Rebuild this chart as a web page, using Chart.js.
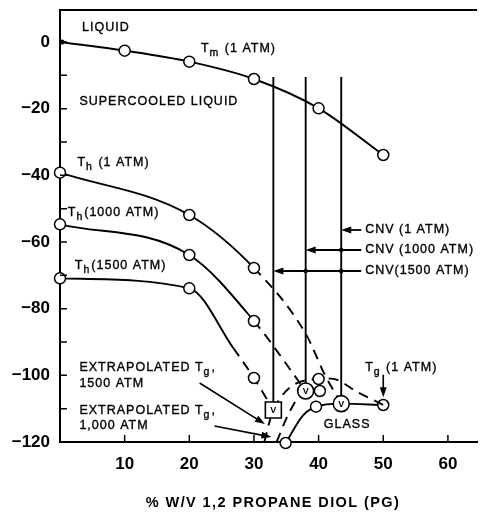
<!DOCTYPE html>
<html>
<head>
<meta charset="utf-8">
<script src="https://cdn.jsdelivr.net/npm/chart.js@4.4.1/dist/chart.umd.min.js"></script>
<style>
  html, body { margin: 0; padding: 0; background: #fff; }
  canvas { display: block; }
</style>
</head>
<body>
<canvas id="phaseChart" width="484" height="514"></canvas>
<script>
// axis ticks
const xTicks = [10, 20, 30, 40, 50, 60];
const yTicks = [0, -20, -40, -60, -80, -100, -120];

// Tm (1 atm) melting curve
const tmX = [0, 10, 20, 30, 40, 50];
const tmY = [0, -2.6, -5.9, -11.1, -19.9, -33.9];

// Th homogeneous nucleation curves at 1, 1000 and 1500 atm
const th1X = [0, 20, 30, 38, 41, 43.5];
const th1Y = [-39.2, -51.9, -67.8, -87.5, -100, -108.5];
const th1000X = [0, 20, 30, 38];
const th1000Y = [-54.7, -63.9, -83.7, -104.7];
const th1500X = [0, 20, 26.8, 30, 33];
const th1500Y = [-70.9, -73.9, -91.8, -100.8, -110.4];

// Tg glass transition curves (1 atm measured, high pressure extrapolated)
const tg1X = [34.9, 37.6, 39.6, 43.5, 50];
const tg1Y = [-120.3, -112, -109.4, -108.5, -108.9];
const tg1000X = [33.5, 35.5, 38, 40.2];
const tg1000Y = [-120, -111, -104.7, -104.7];
const tg1500X = [31.6, 33, 40, 42, 46, 50];
const tg1500Y = [-120, -110.4, -101.1, -101, -105, -108.9];

// critical concentration for vitrification
const cnvLabels = ['CNV (1 ATM)', 'CNV (1000 ATM)', 'CNV(1500 ATM)'];
const cnvX = [43.5, 38, 33];
const cnvTop = -10.5;
const cnvBottom = [-108.5, -104.7, -110.4];

const R = 5.5;
const DASH = [10, 7];
const FONT = '"Liberation Sans", Arial, sans-serif';

function curve(xs, ys, radii, dashFrom) {
    return {
        data: xs.map((x, i) => ({ x: x, y: ys[i] })),
        showLine: true,
        clip: false,
        borderColor: '#000',
        borderWidth: 1.9,
        cubicInterpolationMode: 'monotone',
        pointRadius: radii,
        pointBackgroundColor: '#fff',
        pointBorderColor: '#000',
        pointBorderWidth: 1.5,
        segment: {
            borderDash: ctx => (ctx.p0DataIndex >= dashFrom ? DASH : undefined),
        },
    };
}

function vline(x, y1, y2) {
    return {
        data: [{ x: x, y: y1 }, { x: x, y: y2 }],
        showLine: true,
        clip: false,
        borderColor: '#000',
        borderWidth: 1.9,
        pointRadius: 0,
    };
}

// free text on the plot, in data units (left edge, vertical middle)
const notes = [
    ['LIQUID', 3.4, 4.2],
    ['T_m (1 ATM)', 21.8, -2.1],
    ['SUPERCOOLED LIQUID', 3.0, -17.9],
    ['T_h (1 ATM)', 2.7, -36.2],
    ['T_h(1000 ATM)', 1.2, -51.2],
    ['T_h(1500 ATM)', 2.3, -67.2],
    ['EXTRAPOLATED T_g,', 3.0, -97.8],
    ['1500 ATM', 3.0, -102.6],
    ['EXTRAPOLATED T_g,', 3.0, -110.7],
    ['1,000 ATM', 3.0, -115.2],
    ['T_g (1 ATM)', 47.2, -97.8],
    ['GLASS', 40.8, -114.9],
];
const cnvLabelY = [-56.4, -62.4, -68.7];

// pointer arrows: [x1, y1, x2, y2], head at the second point
const pointers = [
    [21.6, -102.3, 31.7, -114.6],
    [23.9, -115.2, 32.7, -118.5],
    [50, -99.8, 50, -106.6],
];

function drawText(ctx, text, px, py) {
    // "_x" marks a subscript character
    const parts = text.split(/_(.)/);
    let cx = px;
    parts.forEach((p, i) => {
        if (!p) return;
        const sub = i % 2 === 1;
        ctx.font = (sub ? '10.5px ' : '12.5px ') + FONT;
        ctx.fillText(p, cx, py + (sub ? 4 : 0));
        ctx.strokeText(p, cx, py + (sub ? 4 : 0));
        cx += ctx.measureText(p).width + (sub ? 1 : 0);
    });
}

function arrow(ctx, x1, y1, x2, y2) {
    const a = Math.atan2(y2 - y1, x2 - x1);
    ctx.beginPath();
    ctx.moveTo(x1, y1);
    ctx.lineTo(x2 - 6 * Math.cos(a), y2 - 6 * Math.sin(a));
    ctx.stroke();
    ctx.beginPath();
    ctx.moveTo(x2, y2);
    ctx.lineTo(x2 - 10 * Math.cos(a) + 3.5 * Math.sin(a), y2 - 10 * Math.sin(a) - 3.5 * Math.cos(a));
    ctx.lineTo(x2 - 10 * Math.cos(a) - 3.5 * Math.sin(a), y2 - 10 * Math.sin(a) + 3.5 * Math.cos(a));
    ctx.closePath();
    ctx.fill();
}

const annotate = {
    id: 'annotate',
    afterDatasetsDraw(chart) {
        const { ctx, chartArea: area, scales: { x, y } } = chart;
        const px = v => x.getPixelForValue(v);
        const py = v => y.getPixelForValue(v);
        ctx.save();
        ctx.strokeStyle = '#000';
        ctx.fillStyle = '#000';

        // frame top and inward tick marks
        ctx.lineWidth = 2;
        ctx.beginPath();
        ctx.moveTo(area.left, area.top);
        ctx.lineTo(area.right, area.top);
        ctx.stroke();
        ctx.lineWidth = 1.5;
        ctx.beginPath();
        for (let v = -110; v <= 0; v += 10) {
            ctx.moveTo(area.left, py(v));
            ctx.lineTo(area.left + 7, py(v));
        }
        xTicks.forEach(v => {
            ctx.moveTo(px(v), area.bottom);
            ctx.lineTo(px(v), area.bottom - 7);
        });
        ctx.stroke();
        // start of the melting curve
        ctx.beginPath();
        ctx.arc(px(tmX[0]) + 2, py(tmY[0]), 2.5, 0, Math.PI * 2);
        ctx.fill();

        // CNV labels with arrows to their verticals
        ctx.lineWidth = 1.8;
        cnvLabels.forEach((t, i) => {
            const yy = py(cnvLabelY[i]);
            arrow(ctx, px(46.6), yy, px(cnvX[i]), yy);
            cnvX.slice(0, i).forEach(cx => {
                ctx.beginPath();
                ctx.arc(px(cx), yy, 2.2, 0, Math.PI * 2);
                ctx.fill();
            });
        });

        ctx.lineWidth = 1.6;
        pointers.forEach(p => arrow(ctx, px(p[0]), py(p[1]), px(p[2]), py(p[3])));

        // vitrification markers
        ctx.lineWidth = 1.6;
        cnvX.forEach((cx, i) => {
            const mx = px(cx), my = py(cnvBottom[i]);
            ctx.fillStyle = '#fff';
            ctx.beginPath();
            if (i === 2) ctx.rect(mx - 8, my - 8, 16, 16);
            else ctx.arc(mx, my, 8, 0, Math.PI * 2);
            ctx.fill();
            ctx.stroke();
            ctx.fillStyle = '#000';
            ctx.font = 'bold 9px ' + FONT;
            ctx.textAlign = 'center';
            ctx.textBaseline = 'middle';
            ctx.fillText('V', mx, my + 1);
        });

        // text
        ctx.textAlign = 'left';
        ctx.textBaseline = 'middle';
        ctx.letterSpacing = '1px';
        ctx.lineWidth = 0.35;
        notes.forEach(n => drawText(ctx, n[0], px(n[1]), py(n[2])));
        cnvLabels.forEach((t, i) => drawText(ctx, t, px(47.2), py(cnvLabelY[i])));

        ctx.letterSpacing = '1.4px';
        ctx.font = 'bold 14.5px ' + FONT;
        ctx.textAlign = 'center';
        ctx.fillText('% W/V 1,2 PROPANE DIOL (PG)', 273, 503);
        ctx.restore();
    },
};

document.addEventListener('DOMContentLoaded', function () {
    Chart.defaults.color = '#000';
    const ctx = document.getElementById('phaseChart').getContext('2d');
    new Chart(ctx, {
        type: 'scatter',
        data: {
            datasets: [
                ...cnvX.map((cx, i) => vline(cx, cnvTop, cnvBottom[i])),
                curve(tmX, tmY, [0, R, R, R, R, R], 99),
                curve(th1X, th1Y, [R, R, R, 0, 0, 0], 2),
                curve(th1000X, th1000Y, [R, R, R, 0], 2),
                curve(th1500X, th1500Y, [R, R, 0, R, 0], 2),
                curve(tg1500X, tg1500Y, [0, 0, R, 0, 0, 0], 0),
                curve(tg1000X, tg1000Y, [0, 0, 0, R], 0),
                curve(tg1X, tg1Y, [R, 0, R, 0, R], 99),
            ],
        },
        options: {
            responsive: false,
            animation: false,
            layout: { padding: { top: 10, right: 0, left: 0, bottom: 0 } },
            plugins: {
                legend: { display: false },
                tooltip: { enabled: false },
            },
            scales: {
                x: {
                    type: 'linear',
                    min: 0,
                    max: 64.5,
                    afterBuildTicks: s => { s.ticks = xTicks.map(v => ({ value: v })); },
                    afterFit: s => {
                        s.height = 72;
                        s.paddingLeft = 0;
                        s.paddingRight = 0;
                    },
                    grid: { display: false, drawTicks: false },
                    border: { display: true, color: '#000', width: 2 },
                    ticks: {
                        autoSkip: false,
                        maxRotation: 0,
                        padding: 12,
                        color: '#000',
                        font: { family: FONT, size: 17, weight: 'bold' },
                    },
                },
                y: {
                    type: 'linear',
                    min: -120,
                    max: 9.6,
                    afterBuildTicks: s => { s.ticks = yTicks.map(v => ({ value: v })); },
                    afterFit: s => {
                        s.width = 60;
                        s.paddingTop = 0;
                        s.paddingBottom = 0;
                    },
                    grid: { display: false, drawTicks: false },
                    border: { display: true, color: '#000', width: 2 },
                    ticks: {
                        autoSkip: false,
                        padding: 10,
                        color: '#000',
                        font: { family: FONT, size: 17, weight: 'bold' },
                        callback: v => (v < 0 ? '\u2212' + Math.abs(v) : String(v)),
                    },
                },
            },
        },
        plugins: [annotate],
    });
});
</script>
</body>
</html>
